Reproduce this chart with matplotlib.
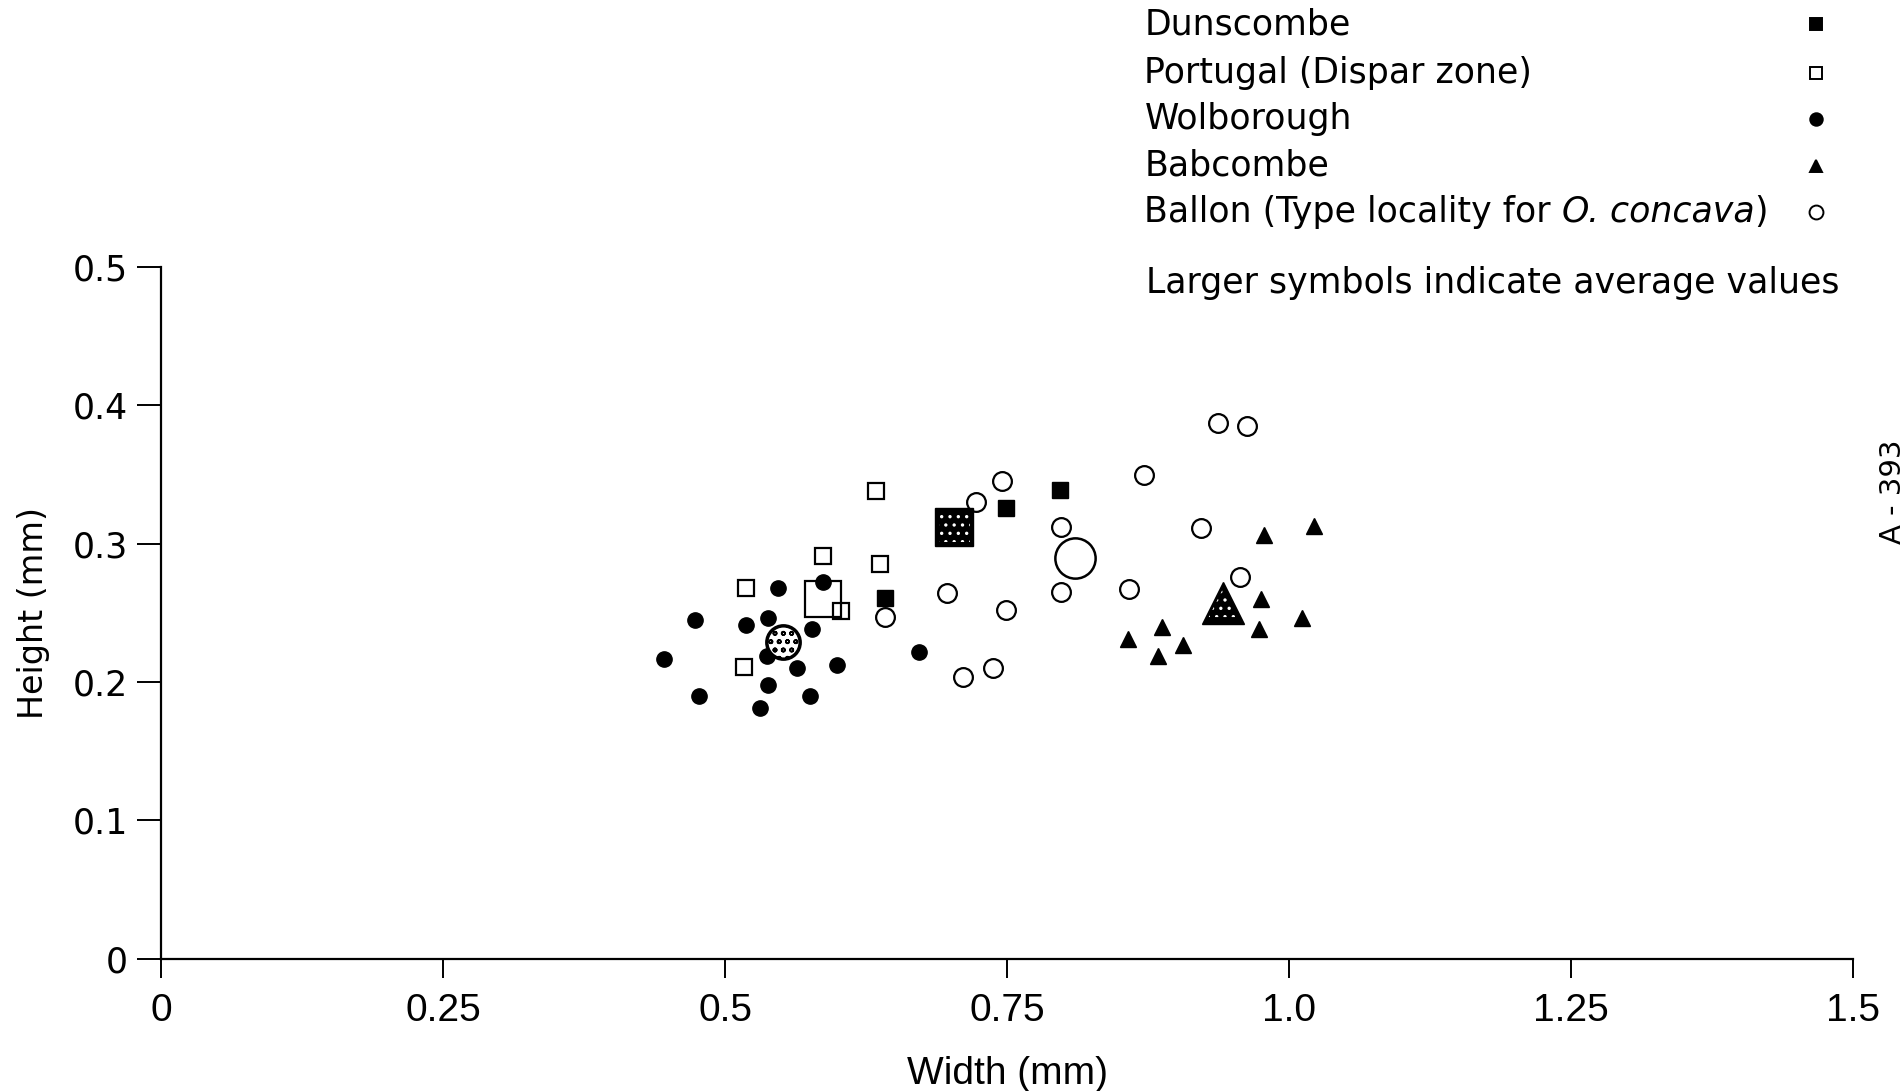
import matplotlib
matplotlib.use("Agg")
import matplotlib.pyplot as plt
from matplotlib import font_manager

# Ostracod carapace measurements (mm): width vs height per locality
dunscombe_w = [0.642, 0.749, 0.797]
dunscombe_h = [0.261, 0.326, 0.339]
dunscombe_avg = (0.703, 0.312)

portugal_w = [0.518, 0.517, 0.587, 0.634, 0.637, 0.603]
portugal_h = [0.268, 0.211, 0.291, 0.338, 0.285, 0.251]
portugal_avg = (0.587, 0.260)

wolborough_w = [0.547, 0.587, 0.473, 0.518, 0.577, 0.446, 0.564, 0.599,
                0.538, 0.477, 0.575, 0.531, 0.538, 0.537, 0.672]
wolborough_h = [0.268, 0.272, 0.245, 0.241, 0.238, 0.217, 0.210, 0.212,
                0.198, 0.190, 0.190, 0.181, 0.246, 0.219, 0.222]
wolborough_avg = (0.551, 0.229)

babcombe_w = [0.978, 1.022, 0.975, 1.011, 0.973, 0.887, 0.857, 0.906, 0.884]
babcombe_h = [0.306, 0.313, 0.260, 0.246, 0.238, 0.240, 0.231, 0.227, 0.219]
babcombe_avg = (0.941, 0.257)

ballon_w = [0.937, 0.963, 0.871, 0.922, 0.956, 0.858, 0.745, 0.722, 0.798,
            0.798, 0.697, 0.749, 0.711, 0.737, 0.642]
ballon_h = [0.387, 0.385, 0.350, 0.311, 0.276, 0.267, 0.345, 0.330, 0.312,
            0.265, 0.264, 0.252, 0.204, 0.210, 0.247]
ballon_avg = (0.810, 0.290)

x_ticks = [0, 0.25, 0.5, 0.75, 1.0, 1.25, 1.5]
x_tick_labels = ["0", "0.25", "0.5", "0.75", "1.0", "1.25", "1.5"]
y_ticks = [0, 0.1, 0.2, 0.3, 0.4, 0.5]
y_tick_labels = ["0", "0.1", "0.2", "0.3", "0.4", "0.5"]

legend_names = ["Dunscombe", "Portugal (Dispar zone)", "Wolborough", "Babcombe"]

installed = {f.name for f in font_manager.fontManager.ttflist}
narrow = "Liberation Sans Narrow" if "Liberation Sans Narrow" in installed else "Liberation Sans"
plt.rcParams["font.family"] = ["DejaVu Sans"]
plt.rcParams["hatch.linewidth"] = 1.2

fig = plt.figure(figsize=(19.03, 10.91), dpi=100)
ax = fig.add_axes([0.0848, 0.1212, 0.889, 0.6341])

ax.set_xlim(0, 1.5)
ax.set_ylim(0, 0.5)
for side in ("top", "right"):
    ax.spines[side].set_visible(False)
for side in ("left", "bottom"):
    ax.spines[side].set_linewidth(1.6)

common = dict(linestyle="none", clip_on=False, zorder=3)

# individual specimens
ax.plot(ballon_w, ballon_h, marker="o", ms=13.5, mfc="white", mec="black", mew=1.6, **common)
ax.plot(wolborough_w, wolborough_h, marker="o", ms=11, mfc="black", mec="black", **common)
ax.plot(portugal_w, portugal_h, marker="s", ms=11, mfc="white", mec="black", mew=1.6, **common)
ax.plot(dunscombe_w, dunscombe_h, marker="s", ms=11.5, mfc="black", mec="black", **common)
ax.plot(babcombe_w, babcombe_h, marker="^", ms=12, mfc="black", mec="black", **common)

# averages (larger symbols)
ax.plot(*ballon_avg, marker="o", ms=29, mfc="none", mec="black", mew=1.8, **common)
ax.plot(*portugal_avg, marker="s", ms=26, mfc="none", mec="black", mew=1.6, **common)
ax.plot(*wolborough_avg, marker="o", ms=24, mfc="white", mec="black", mew=2.5, **common)
ax.scatter(*wolborough_avg, s=24 ** 2, marker="o", facecolor="none", edgecolor="black",
           hatch="oo", linewidths=0, zorder=4, clip_on=False)
ax.plot(*dunscombe_avg, marker="s", ms=28, mfc="black", mec="black", **common)
ax.scatter(*dunscombe_avg, s=22 ** 2, marker="s", facecolor="none", edgecolor="white",
           hatch="..", linewidths=0, zorder=4, clip_on=False)
ax.plot(*babcombe_avg, marker="^", ms=30, mfc="black", mec="black", **common)
ax.scatter(*babcombe_avg, s=20 ** 2, marker="^", facecolor="none", edgecolor="white",
           hatch="..", linewidths=0, zorder=4, clip_on=False)

ax.set_xticks(x_ticks)
ax.set_xticklabels(x_tick_labels, fontsize=28, family=narrow)
ax.set_yticks(y_ticks)
ax.set_yticklabels(y_tick_labels, fontsize=25)
ax.tick_params(axis="x", length=14, width=1.4, pad=11)
ax.tick_params(axis="y", length=17, width=1.4, pad=7)

ax.set_xlabel("Width (mm)", fontsize=28, family=narrow, labelpad=19)
ax.set_ylabel("Height (mm)", fontsize=24, labelpad=16)

# key in the upper right
key_fs = 25
key_y = [0.978, 0.933, 0.891, 0.848, 0.806]
key_markers = [("s", "black", 9), ("s", "white", 9), ("o", "black", 9), ("^", "black", 9), ("o", "white", 10)]
for name, y in zip(legend_names, key_y):
    fig.text(0.6014, y, name, fontsize=key_fs, va="center", ha="left")
t1 = fig.text(0.6014, key_y[4], "Ballon (Type locality for ", fontsize=key_fs,
              va="center", ha="left")
t2 = fig.text(0, 0, "O. concava", fontsize=key_fs, style="italic", va="bottom", ha="left")
t3 = fig.text(0, 0, ")", fontsize=key_fs, va="bottom", ha="left")
fig.canvas.draw()
r = fig.canvas.get_renderer()
b1 = t1.get_window_extent(r).transformed(fig.transFigure.inverted())
t2.set_position((b1.x1, b1.y0))
b2 = t2.get_window_extent(r).transformed(fig.transFigure.inverted())
t3.set_position((b2.x1, b1.y0))

for (m, fc, size), y in zip(key_markers, key_y):
    fig.add_artist(plt.Line2D([0.9542], [y], marker=m, ms=size, mfc=fc, mec="black",
                              mew=1.4, linestyle="none", transform=fig.transFigure))
fig.text(0.6024, 0.741, "Larger symbols indicate average values", fontsize=key_fs,
         va="center", ha="left")

fig.text(0.9945, 0.549, "A - 393", fontsize=21, rotation=90, va="center", ha="center")

fig.savefig("out.png", dpi=100, facecolor="white")
